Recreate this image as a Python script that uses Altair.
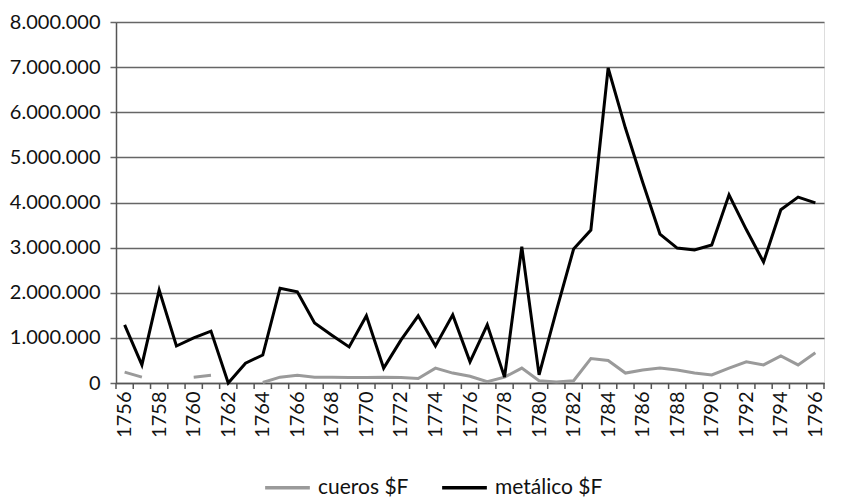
import altair as alt
import pandas as pd

years = list(range(1756, 1797))

metalico = [1290000, 400000, 2060000, 820000, 1000000, 1150000, 0, 440000, 620000, 2100000,
            2020000, 1330000, 1060000, 800000, 1490000, 330000, 950000, 1490000, 820000, 1510000,
            470000, 1290000, 130000, 3020000, 180000, 1600000, 2970000, 3390000, 6980000, 5650000,
            4450000, 3300000, 2990000, 2950000, 3060000, 4170000, 3400000, 2680000, 3840000, 4120000,
            3990000]

cueros = [240000, 130000, None, None, 130000, 170000, None, None, 10000, 130000,
          170000, 130000, 130000, 120000, 120000, 130000, 120000, 100000, 330000, 220000,
          150000, 30000, 130000, 330000, 50000, 20000, 50000, 540000, 500000, 220000,
          290000, 330000, 290000, 220000, 180000, 330000, 470000, 400000, 600000, 400000,
          670000]

series_names = ["cueros $F", "metálico $F"]
series_colors = ["#9a9a9a", "#000000"]
y_ticks = [0, 1000000, 2000000, 3000000, 4000000, 5000000, 6000000, 7000000, 8000000]
x_label_years = [y for y in years if y % 2 == 0]

rows = []
for y, v in zip(years, cueros):
    rows.append({"year": y, "value": v, "serie": series_names[0]})
for y, v in zip(years, metalico):
    rows.append({"year": y, "value": v, "serie": series_names[1]})
df = pd.DataFrame(rows)

bounds = pd.DataFrame({"b": [y - 0.5 for y in years] + [years[-1] + 0.5]})

FONT = "Lato"
W, H = 708, 361

xscale = alt.Scale(domain=[years[0] - 0.5, years[-1] + 0.5], nice=False, zero=False)

lines = alt.Chart(df).mark_line(strokeWidth=3, invalid="break-paths-show-domains").encode(
    x=alt.X("year:Q", scale=xscale,
            axis=alt.Axis(values=x_label_years, format="d", labelAngle=-90, ticks=False,
                          grid=False, domainColor="#555555", domainWidth=1.5,
                          labelFont=FONT, labelFontSize=20, labelColor="#111111",
                          labelPadding=8, labelAlign="right", labelBaseline="middle",
                          labelOverlap=False, labelFlush=False, labelBound=False,
                          title=None)),
    y=alt.Y("value:Q", scale=alt.Scale(domain=[0, 8000000], nice=False),
            axis=alt.Axis(values=y_ticks, grid=True, gridColor="#666666", gridWidth=1.5,
                          tickColor="#666666", tickWidth=1.5, tickSize=6,
                          domainColor="#555555", domainWidth=1.5,
                          labelExpr="replace(format(datum.value, ','), /,/g, '.')",
                          labelFont=FONT, labelFontSize=20, labelColor="#111111",
                          labelPadding=10, labelOverlap=False, title=None)),
    color=alt.Color("serie:N", scale=alt.Scale(domain=series_names, range=series_colors),
                    legend=alt.Legend(orient="none", legendX=147, legendY=441,
                                      direction="horizontal", title=None,
                                      symbolType="stroke", symbolStrokeWidth=3.5,
                                      symbolSize=2000, labelFont=FONT, labelFontSize=21,
                                      labelColor="#111111", columnPadding=26,
                                      symbolOffset=0, labelOffset=6, padding=0)),
)

ticks = alt.Chart(bounds).mark_rule(color="#555555", strokeWidth=1.5).encode(
    x=alt.X("b:Q", scale=xscale, axis=None),
    y=alt.value(H),
    y2=alt.value(H + 6),
)

chart = alt.layer(lines, ticks).resolve_axis(x="independent").properties(
    width=W, height=H,
    autosize=alt.AutoSizeParams(type="none"),
    padding={"left": 108, "top": 14, "right": 18, "bottom": 116},
).configure_view(stroke=None).configure(background="white")

chart.save("out.html", embed_options={"renderer": "svg", "actions": False})
